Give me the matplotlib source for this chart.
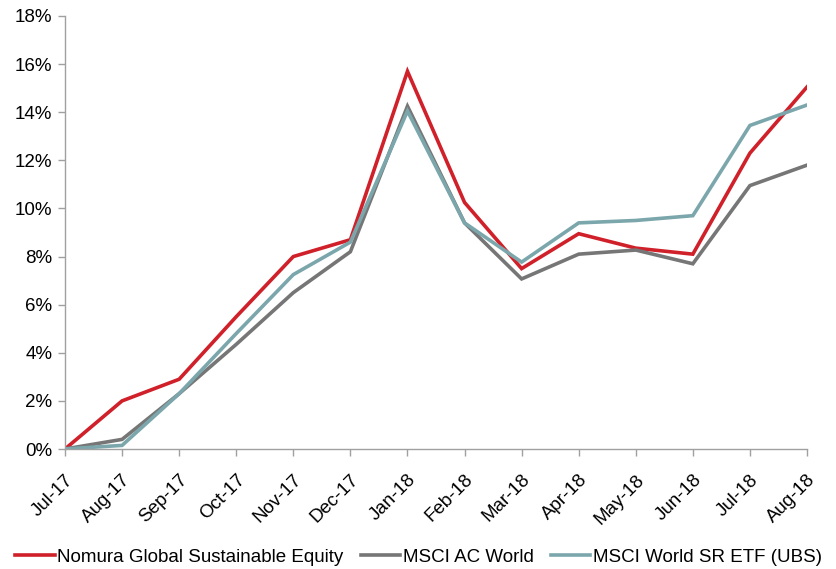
import numpy as np
import matplotlib
matplotlib.use("Agg")
import matplotlib.pyplot as plt
from matplotlib.ticker import FuncFormatter

plt.rcParams['font.family'] = ['Liberation Sans', 'DejaVu Sans']

months = ["Jul-17", "Aug-17", "Sep-17", "Oct-17", "Nov-17", "Dec-17", "Jan-18",
          "Feb-18", "Mar-18", "Apr-18", "May-18", "Jun-18", "Jul-18", "Aug-18"]
nomura = [0.0, 2.0, 2.9, 5.5, 8.0, 8.7, 15.7, 10.25, 7.5, 8.95, 8.35, 8.1, 12.3, 15.05]
acwi = [0.0, 0.4, 2.3, 4.35, 6.5, 8.2, 14.25, 9.4, 7.07, 8.1, 8.27, 7.7, 10.95, 11.8]
sr_etf = [0.0, 0.15, 2.3, 4.8, 7.25, 8.6, 14.05, 9.4, 7.77, 9.4, 9.5, 9.7, 13.45, 14.3]

names = ["Nomura Global Sustainable Equity", "MSCI AC World", "MSCI World SR ETF (UBS)"]
colors = ["#D0202A", "#767676", "#7BA7AC"]

fig = plt.figure(figsize=(8.37, 5.69), dpi=100)
ax = fig.add_axes([65/837, 120/569, 742/837, 433/569])

x = np.arange(len(months))
for vals, nm, c in zip([nomura, acwi, sr_etf], names, colors):
    ax.plot(x, vals, color=c, lw=2.6, label=nm, solid_joinstyle='miter')

ax.set_xlim(0, len(months) - 1)
ax.set_ylim(0, 18)
ax.set_yticks(np.arange(0, 19, 2))
ax.yaxis.set_major_formatter(FuncFormatter(lambda v, p: "%d%%" % v))
ax.set_xticks(x)
ax.set_xticklabels(months, rotation=45, ha='right', rotation_mode='anchor')

for s in ['top', 'right']:
    ax.spines[s].set_visible(False)
for s in ['left', 'bottom']:
    ax.spines[s].set_color('#A0A0A0')
    ax.spines[s].set_linewidth(1.0)
ax.tick_params(axis='both', colors='#A0A0A0', labelcolor='black', labelsize=13.5, length=5, width=1.0)
ax.tick_params(axis='x', pad=11)
ax.tick_params(axis='y', pad=4)

fig.legend(loc='center', bbox_to_anchor=(0.5, 1 - 557/569), ncol=3, frameon=False,
           fontsize=13.5, handlelength=2.1, handletextpad=0.15, columnspacing=0.9)

fig.savefig("out.png", dpi=100)
